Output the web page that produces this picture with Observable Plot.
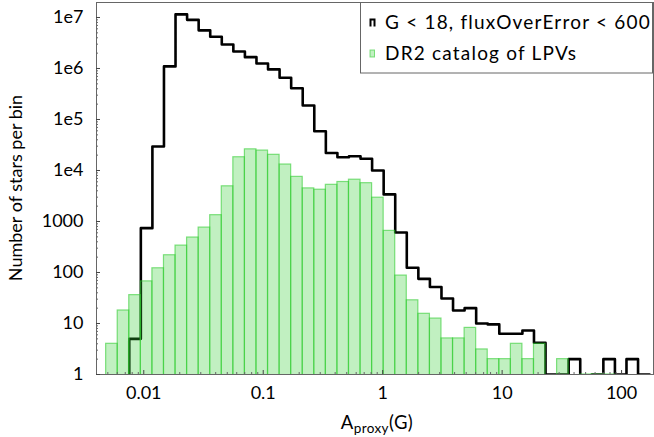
<!DOCTYPE html>
<html>
<head>
<meta charset="utf-8">
<script src="https://cdn.jsdelivr.net/npm/d3@7"></script>
<script src="https://cdn.jsdelivr.net/npm/@observablehq/plot@0.6"></script>
<style>
  html, body { margin: 0; padding: 0; background: #fff; }
  #wrap { position: relative; width: 654px; height: 437px; }
</style>
</head>
<body>
<div id="wrap"></div>
<script>
// ---- Data ----
// Histogram bins: log-spaced, 47 bins
const logBinStart = -2.315;
const logBinWidth = 0.0968;
const nBins = 47;

// All stars: G < 18, fluxOverError < 600 (step histogram)
const allCounts = [0, 0, 5, 740, 29500, 1.1e6, 1.15e7, 9.0e6, 5.6e6, 4.2e6,
  2.95e6, 2.15e6, 1.67e6, 1.25e6, 9.6e5, 6.6e5, 4.1e5, 1.88e5, 5.9e4, 2.2e4,
  1.82e4, 1.9e4, 1.7e4, 1.0e4, 3400, 610, 124, 75, 52, 31,
  18, 20, 10, 9.6, 6.3, 6.3, 7.3, 4.2, 1, 1,
  2, 0, 1, 2, 1, 2, 1];

// DR2 catalog of LPVs (filled bars)
const lpvCounts = [4, 18, 36, 67, 121, 218, 337, 485, 760, 1330,
  4900, 18200, 26000, 24600, 20300, 13100, 7500, 4460, 4200, 5240,
  5950, 6600, 5640, 2930, 655, 87, 28.5, 15.5, 12.5, 5.1,
  5.1, 8.2, 3.1, 2, 2, 4, 2, 4, 0, 2,
  0, 1, 1, 1, 0, 0, 0];

const xTickValues = [0.01, 0.1, 1, 10, 100];
const xTickLabels = ["0.01", "0.1", "1", "10", "100"];
const yTickValues = [1, 10, 100, 1000, 1e4, 1e5, 1e6, 1e7];
const yTickLabels = ["1", "10", "100", "1000", "1e4", "1e5", "1e6", "1e7"];

const legendLabels = ["G < 18, fluxOverError < 600", "DR2 catalog of LPVs"];
const xLabelMain = "A";
const xLabelSub = "proxy";
const xLabelTail = "(G)";
const yLabel = "Number of stars per bin";

// ---- Derived tables ----
const edges = d3.range(nBins + 1).map(i => Math.pow(10, logBinStart + i * logBinWidth));
const bins = d3.range(nBins).map(i => ({x1: edges[i], x2: edges[i + 1], all: allCounts[i], lpv: lpvCounts[i]}));
const stepPts = bins.map(b => ({x: b.x1, y: b.all}))
  .concat([{x: edges[nBins], y: allCounts[nBins - 1]}, {x: edges[nBins], y: 0}]);

const minorTicks = (lo, hi) => {
  const out = [];
  for (let k = lo; k <= hi; k++) for (let m = 2; m <= 9; m++) out.push(m * Math.pow(10, k));
  return out;
};
const xMinor = minorTicks(-3, 2).filter(v => v > 0.00402 && v < 185);
const yMinor = minorTicks(0, 7).filter(v => v < 1.968e7);

const FONT = "Lato, 'Noto Sans', sans-serif";

const plot = Plot.plot({
  width: 654,
  height: 437,
  marginLeft: 96,
  marginRight: 1,
  marginTop: 2,
  marginBottom: 63,
  style: {fontFamily: FONT, fontSize: "18px", color: "#000", background: "#fff", overflow: "visible"},
  x: {type: "log", domain: [0.00402, 185]},
  y: {type: "log", domain: [1, 1.968e7]},
  marks: [
    Plot.line(stepPts, {
      x: "x", y: d => (d.y > 0 ? d.y : 0.3),
      curve: "step-after", stroke: "#000", strokeWidth: 2.6, clip: true
    }),
    Plot.rect(bins.filter(d => d.lpv > 0), {
      x1: "x1", x2: "x2", y1: () => 0.3, y2: "lpv",
      fill: "#32cd32", fillOpacity: 0.3,
      stroke: "#32cd32", strokeOpacity: 0.6, strokeWidth: 1.2,
      clip: true
    }),
    Plot.frame({stroke: "#666"}),
    Plot.axisX({ticks: xTickValues, tickFormat: d => xTickLabels[xTickValues.indexOf(d)],
      tickSize: 0, tickPadding: 12, label: null, fontSize: 18}),
    Plot.axisX({ticks: xTickValues, tickSize: -4, text: null, label: null, stroke: "#444"}),
    Plot.axisX({ticks: xMinor, tickSize: -2, text: null, label: null, stroke: "#666"}),
    Plot.axisY({ticks: yTickValues, tickFormat: d => yTickLabels[yTickValues.indexOf(d)],
      tickSize: 0, tickPadding: 13, label: null, fontSize: 18}),
    Plot.axisY({ticks: yTickValues, tickSize: -4, text: null, label: null, stroke: "#444"}),
    Plot.axisY({ticks: yMinor, tickSize: -2, text: null, label: null, stroke: "#666"})
  ]
});

document.getElementById("wrap").appendChild(plot);

// ---- Axis titles ----
const svg = d3.select(plot);
const xt = svg.append("text")
  .attr("x", 377).attr("y", 429)
  .attr("text-anchor", "middle")
  .style("font-family", FONT).style("font-size", "18.5px").style("letter-spacing", "0.4px").attr("fill", "#000");
xt.append("tspan").text(xLabelMain);
xt.append("tspan").attr("dy", 4).style("font-size", "13.5px").text(xLabelSub);
xt.append("tspan").attr("dy", -4).text(xLabelTail);

svg.append("text")
  .attr("transform", "translate(22,188) rotate(-90)")
  .attr("text-anchor", "middle")
  .style("font-family", FONT).style("font-size", "18px").attr("fill", "#000")
  .text(yLabel);

// ---- Legend (inside the axes, upper right) ----
const lg = svg.append("g").attr("text-anchor", "start");
lg.append("rect").attr("x", 360.5).attr("y", 2.5).attr("width", 292).attr("height", 70.5)
  .attr("fill", "rgba(255,255,255,0.85)").attr("stroke", "#666").attr("stroke-width", 1);
// handle 1: step outline
lg.append("path").attr("d", "M370.5,26.5V19.5H374.5V26.5").attr("fill", "none")
  .attr("stroke", "#000").attr("stroke-width", 2);
// handle 2: filled bar
lg.append("rect").attr("x", 370).attr("y", 50).attr("width", 4.5).attr("height", 7)
  .attr("fill", "#32cd32").attr("fill-opacity", 0.3)
  .attr("stroke", "#32cd32").attr("stroke-opacity", 0.6);
legendLabels.forEach((t, i) => {
  lg.append("text").attr("x", 385).attr("y", 28.5 + i * 31)
    .attr("text-anchor", "start")
    .style("font-family", FONT).style("font-size", "19px").style("letter-spacing", "1.2px")
    .attr("fill", "#000")
    .text(t);
});
</script>
</body>
</html>
